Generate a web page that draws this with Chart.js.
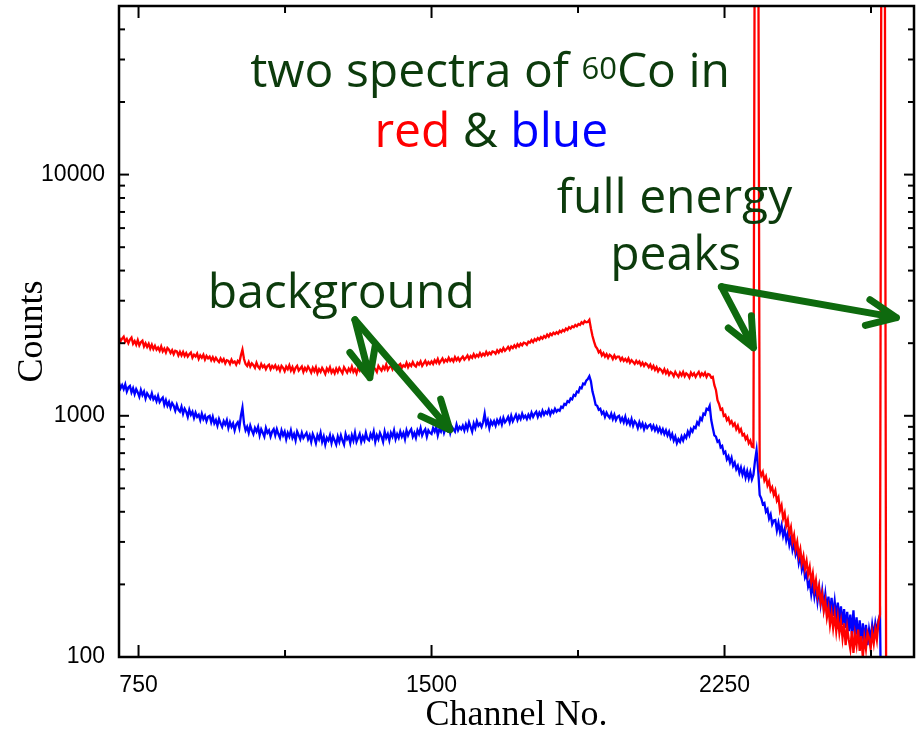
<!DOCTYPE html>
<html>
<head>
<meta charset="utf-8">
<title>Two spectra of 60Co</title>
<script src="https://cdn.jsdelivr.net/npm/chart.js@4.4.1/dist/chart.umd.min.js"></script>
<style>
  html, body { margin: 0; padding: 0; background: #fff; }
</style>
</head>
<body>
<canvas id="spectrum" width="916" height="731"></canvas>
<script>
// spectra sampled every 4th channel, starting at channel 700
const firstChannel = 700;
const channelStep = 4;

// red spectrum (20 values = 80 channels per row)
const redCounts = [
  2120, 2040, 2090, 2130, 2030, 2080, 2000, 2070, 2110, 1990, 2040, 1970, 2060, 1960, 2020, 2050, 1940, 2000, 1930, 1990,
  1900, 1970, 1890, 1950, 1880, 1920, 1860, 1940, 1850, 1900, 1830, 1910, 1880, 1820, 1870, 1800, 1860, 1850, 1780, 1840,
  1780, 1840, 1770, 1820, 1760, 1800, 1830, 1740, 1790, 1760, 1810, 1720, 1780, 1740, 1790, 1710, 1770, 1730, 1760, 1700,
  1750, 1690, 1740, 1700, 1670, 1730, 1680, 1720, 1650, 1700, 1690, 1640, 1710, 1660, 1680, 1630, 1690, 1660, 1780, 1880,
  1720, 1640, 1610, 1670, 1600, 1650, 1620, 1580, 1660, 1600, 1570, 1640, 1590, 1620, 1560, 1610, 1630, 1560, 1610, 1580,
  1620, 1560, 1600, 1540, 1610, 1580, 1530, 1600, 1560, 1620, 1540, 1590, 1520, 1580, 1610, 1540, 1570, 1600, 1520, 1580,
  1540, 1600, 1560, 1510, 1580, 1530, 1590, 1500, 1560, 1520, 1580, 1540, 1490, 1570, 1530, 1590, 1510, 1550, 1500, 1570,
  1520, 1580, 1540, 1500, 1590, 1550, 1510, 1570, 1530, 1600, 1520, 1560, 1500, 1580, 1540, 1610, 1530, 1570, 1520, 1590,
  1550, 1600, 1530, 1590, 1560, 1520, 1610, 1570, 1540, 1600, 1560, 1630, 1550, 1590, 1610, 1560, 1630, 1580, 1560, 1620,
  1640, 1580, 1620, 1600, 1660, 1590, 1640, 1610, 1670, 1620, 1600, 1660, 1630, 1680, 1610, 1650, 1690, 1630, 1670, 1640,
  1680, 1640, 1700, 1660, 1720, 1650, 1690, 1730, 1670, 1710, 1680, 1740, 1690, 1720, 1680, 1750, 1700, 1740, 1690, 1730,
  1760, 1710, 1740, 1780, 1720, 1770, 1740, 1800, 1750, 1790, 1760, 1820, 1770, 1810, 1780, 1840, 1790, 1830, 1800, 1850,
  1840, 1810, 1870, 1830, 1880, 1850, 1910, 1860, 1890, 1930, 1880, 1940, 1910, 1960, 1920, 1980, 1940, 1990, 1960, 2010,
  2000, 1970, 2030, 2010, 2060, 2020, 2080, 2050, 2100, 2070, 2120, 2090, 2140, 2110, 2170, 2130, 2190, 2160, 2210, 2180,
  2220, 2190, 2250, 2220, 2270, 2240, 2300, 2270, 2330, 2300, 2350, 2330, 2380, 2350, 2400, 2380, 2440, 2410, 2470, 2440,
  2450, 2500, 2300, 2140, 2030, 1940, 1900, 1830, 1860, 1780, 1820, 1760, 1800, 1740, 1790, 1770, 1720, 1780, 1730, 1760,
  1760, 1700, 1740, 1690, 1720, 1680, 1730, 1660, 1700, 1670, 1640, 1690, 1650, 1680, 1620, 1660, 1610, 1650, 1630, 1590,
  1630, 1570, 1610, 1550, 1590, 1530, 1570, 1550, 1510, 1560, 1500, 1540, 1480, 1520, 1500, 1460, 1520, 1480, 1450, 1510,
  1470, 1520, 1460, 1500, 1480, 1440, 1510, 1470, 1500, 1450, 1490, 1520, 1460, 1500, 1470, 1510, 1450, 1490, 1480, 1440,
  1450, 1340, 1280, 1160, 1120, 1060, 1070, 1000, 1010, 960, 980, 930, 950, 910, 930, 880, 910, 860, 880, 830,
  840, 800, 820, 770, 790, 745, 740, 300000, 10000000, 200000, 600, 565, 585, 540, 560, 515, 535, 490, 505, 470,
  490, 445, 460, 405, 425, 375, 395, 350, 370, 325, 345, 300, 320, 280, 300, 262, 280, 245, 262, 232,
  250, 220, 236, 205, 222, 192, 208, 180, 196, 168, 182, 156, 170, 146, 160, 136, 152, 132, 150, 128,
  146, 126, 140, 120, 138, 112, 132, 118, 108, 128, 104, 124, 112, 130, 106, 122, 100, 120, 108, 126,
  120, 108, 126, 114, 130, 118, 140, 150, 300000, 10000000, 200000, 40, 40, 40, 40, 40, 40, 40, 40, 40,
  40, 40, 40, 40, 40, 40, 40, 40, 40
];

// blue spectrum
const blueCounts = [
  1370, 1300, 1340, 1290, 1350, 1260, 1310, 1330, 1250, 1300, 1230, 1290, 1250, 1200, 1280, 1220, 1260, 1180, 1240, 1210,
  1180, 1240, 1170, 1200, 1150, 1210, 1140, 1170, 1190, 1110, 1160, 1100, 1140, 1080, 1130, 1100, 1050, 1110, 1060, 1040,
  1090, 1020, 1070, 1040, 990, 1060, 1010, 1040, 980, 1030, 990, 1010, 960, 1020, 970, 1000, 950, 990, 1000, 940,
  990, 930, 960, 910, 970, 930, 900, 950, 920, 960, 890, 940, 900, 930, 870, 920, 940, 890, 1000, 1080,
  930, 870, 900, 850, 910, 870, 840, 890, 860, 900, 830, 880, 850, 820, 890, 850, 870, 820, 860, 880,
  830, 880, 840, 810, 870, 830, 860, 800, 850, 820, 870, 810, 840, 790, 860, 830, 800, 850, 810, 830,
  850, 800, 830, 780, 840, 810, 770, 830, 800, 850, 780, 820, 760, 810, 790, 830, 770, 820, 790, 760,
  820, 780, 830, 790, 760, 840, 800, 820, 770, 830, 790, 850, 780, 810, 840, 780, 820, 790, 850, 800,
  790, 840, 810, 860, 780, 830, 800, 850, 820, 780, 860, 810, 840, 790, 850, 820, 870, 800, 840, 810,
  860, 820, 850, 800, 870, 830, 860, 880, 820, 850, 810, 870, 840, 890, 830, 860, 880, 820, 870, 850,
  840, 890, 860, 900, 830, 880, 860, 910, 850, 890, 870, 920, 850, 900, 880, 860, 920, 870, 900, 880,
  910, 870, 920, 880, 940, 900, 860, 930, 890, 950, 910, 930, 900, 940, 1020, 920, 960, 890, 950, 920,
  950, 910, 960, 930, 970, 920, 980, 940, 960, 990, 940, 1000, 950, 980, 1010, 960, 1000, 970, 1020, 980,
  1000, 970, 1010, 980, 1030, 990, 1020, 1040, 990, 1030, 1000, 1050, 1010, 1040, 1020, 1060, 1010, 1050, 1030, 1070,
  1040, 1060, 1050, 1090, 1080, 1120, 1110, 1150, 1140, 1180, 1170, 1220, 1210, 1260, 1250, 1310, 1300, 1360, 1350, 1400,
  1420, 1460, 1390, 1260, 1190, 1110, 1100, 1060, 1070, 1020, 1040, 990, 1030, 1000, 980, 1020, 970, 1010, 960, 990,
  1000, 950, 980, 940, 990, 930, 960, 920, 970, 910, 950, 930, 890, 940, 900, 930, 880, 920, 890, 910,
  920, 880, 910, 870, 900, 860, 890, 850, 880, 840, 870, 830, 860, 810, 840, 790, 820, 770, 800, 780,
  820, 790, 830, 810, 860, 830, 880, 860, 900, 890, 940, 920, 980, 960, 1020, 1010, 1070, 1060, 1100, 960,
  890, 830, 820, 780, 790, 740, 750, 700, 710, 660, 680, 640, 670, 620, 640, 600, 620, 580, 610, 570,
  600, 555, 590, 550, 585, 545, 570, 650, 720, 600, 470, 455, 430, 435, 400, 410, 375, 390, 355, 368,
  370, 335, 360, 330, 352, 318, 338, 305, 325, 292, 312, 278, 296, 266, 280, 246, 265, 230, 244, 214,
  222, 196, 205, 182, 200, 178, 196, 170, 192, 166, 188, 160, 182, 156, 178, 150, 176, 148, 170, 146,
  168, 142, 162, 136, 158, 132, 154, 128, 150, 124, 156, 120, 146, 118, 142, 112, 138, 116, 136, 112,
  130, 118, 136, 122, 138, 126, 142, 150, 40, 40, 40, 40, 40, 40, 40, 40, 40, 40, 40, 40,
  40, 40, 40, 40, 40, 40, 40, 40, 40
];

const xTickLabels = [750, 1500, 2250];
const xMinorTicks = [1125, 1875, 2625];
const yTickLabels = [100, 1000, 10000];
const yMinorTicks = [200, 300, 400, 500, 600, 700, 800, 900,
  2000, 3000, 4000, 5000, 6000, 7000, 8000, 9000, 20000, 30000, 40000];

const channels = redCounts.map((_, i) => firstChannel + i * channelStep);

const textGreen = '#0c3b0c';
const arrowGreen = '#0e6a0e';
const noteFont = '48px "Comic Sans MS", "Open Sans", sans-serif';
const supFont = '31px "Comic Sans MS", "Open Sans", sans-serif';

// annotations, anchored in data coordinates (channel, counts)
const notes = [
  { ch: 1650, count: 23000, runs: [['two spectra of ', textGreen], ['60', textGreen, true], ['Co in', textGreen]] },
  { ch: 1653, count: 13000, runs: [['red', '#ff0000'], [' & ', textGreen], ['blue', '#0000ff']] },
  { ch: 2122, count: 6950, runs: [['full energy', textGreen]] },
  { ch: 2125, count: 4035, runs: [['peaks', textGreen]] },
  { ch: 1269, count: 2806, runs: [['background', textGreen]] }
];
const arrows = [
  { from: [1304, 2500], to: [1342, 1440] },
  { from: [1304, 2500], to: [1547, 875] },
  { from: [2242, 3428], to: [2324, 1915] },
  { from: [2242, 3428], to: [2690, 2553] }
];

const framePlugin = {
  id: 'frame',
  afterDraw(chart) {
    const { ctx, chartArea: a, scales: { x, y } } = chart;
    ctx.save();
    ctx.strokeStyle = '#000';
    ctx.lineWidth = 2;
    const seg = (x1, y1, x2, y2) => { ctx.beginPath(); ctx.moveTo(x1, y1); ctx.lineTo(x2, y2); ctx.stroke(); };
    const xTick = (v, len) => {
      const p = x.getPixelForValue(v);
      seg(p, a.bottom, p, a.bottom - len);
      seg(p, a.top, p, a.top + len);
    };
    const yTick = (v, len) => {
      const p = y.getPixelForValue(v);
      seg(a.left, p, a.left + len, p);
      seg(a.right, p, a.right - len, p);
    };
    xTickLabels.forEach(v => xTick(v, 12));
    xMinorTicks.forEach(v => xTick(v, 7));
    yTickLabels.forEach(v => yTick(v, 10));
    yMinorTicks.forEach(v => yTick(v, 6));
    ctx.lineWidth = 2.5;
    ctx.strokeRect(a.left, a.top, a.right - a.left, a.bottom - a.top);
    ctx.restore();
  }
};

const notesPlugin = {
  id: 'notes',
  afterDraw(chart) {
    const { ctx, scales: { x, y } } = chart;
    ctx.save();
    // arrows
    ctx.strokeStyle = arrowGreen;
    ctx.lineWidth = 7;
    ctx.lineCap = 'round';
    ctx.lineJoin = 'round';
    arrows.forEach(ar => {
      const x1 = x.getPixelForValue(ar.from[0]), y1 = y.getPixelForValue(ar.from[1]);
      const x2 = x.getPixelForValue(ar.to[0]), y2 = y.getPixelForValue(ar.to[1]);
      const ang = Math.atan2(y2 - y1, x2 - x1);
      ctx.beginPath();
      ctx.moveTo(x1, y1);
      ctx.lineTo(x2, y2);
      [-0.42, 0.42].forEach(d => {
        ctx.moveTo(x2 - 32 * Math.cos(ang + d), y2 - 32 * Math.sin(ang + d));
        ctx.lineTo(x2, y2);
      });
      ctx.stroke();
    });
    // text
    ctx.textBaseline = 'alphabetic';
    ctx.textAlign = 'left';
    notes.forEach(n => {
      const cx = x.getPixelForValue(n.ch), by = y.getPixelForValue(n.count);
      const widths = n.runs.map(([t, , sup]) => {
        ctx.font = sup ? supFont : noteFont;
        return ctx.measureText(t).width;
      });
      let px = cx - widths.reduce((s, w) => s + w, 0) / 2;
      n.runs.forEach(([t, col, sup], i) => {
        ctx.font = sup ? supFont : noteFont;
        ctx.fillStyle = col;
        ctx.fillText(t, px, sup ? by - 8 : by);
        px += widths[i];
      });
    });
    ctx.restore();
  }
};

const tickFont = { family: '"Liberation Sans", Arial, sans-serif', size: 23 };
const titleFont = { family: '"Liberation Serif", "Times New Roman", serif', size: 36, lineHeight: 1 };

new Chart(document.getElementById('spectrum'), {
  type: 'line',
  data: {
    datasets: [{
      label: 'red',
      data: channels.map((c, i) => ({ x: c, y: redCounts[i] })),
      borderColor: '#ff0000',
      borderWidth: 2.3,
      pointRadius: 0,
      tension: 0,
      order: 0
    }, {
      label: 'blue',
      data: channels.map((c, i) => ({ x: c, y: blueCounts[i] })),
      borderColor: '#0000ff',
      borderWidth: 2.3,
      pointRadius: 0,
      tension: 0,
      order: 1
    }]
  },
  options: {
    responsive: false,
    animation: false,
    layout: { padding: { top: 6, right: 2, left: 0, bottom: 0 } },
    plugins: {
      legend: { display: false },
      tooltip: { enabled: false }
    },
    scales: {
      x: {
        type: 'linear',
        min: 700,
        max: 2735,
        afterFit: s => { s.height = 74; s.paddingLeft = 0; s.paddingRight = 0; },
        afterBuildTicks: s => { s.ticks = xTickLabels.map(v => ({ value: v })); },
        grid: { display: false, drawTicks: false },
        border: { display: false },
        ticks: { padding: 15, font: tickFont, color: '#000', maxRotation: 0, autoSkip: false, callback: v => String(v) },
        title: { display: true, text: 'Channel No.', font: titleFont, color: '#000', padding: { top: 0, bottom: -3 } }
      },
      y: {
        type: 'logarithmic',
        min: 100,
        max: 50000,
        afterFit: s => { s.width = 119; s.paddingTop = 0; s.paddingBottom = 0; },
        afterBuildTicks: s => { s.ticks = yTickLabels.map(v => ({ value: v })); },
        grid: { display: false, drawTicks: false },
        border: { display: false },
        ticks: { padding: 14, font: tickFont, color: '#000', autoSkip: false, callback: v => String(v) },
        title: { display: true, text: 'Counts', font: titleFont, color: '#000', padding: { top: 15, bottom: 0 } }
      }
    }
  },
  plugins: [framePlugin, notesPlugin]
});
</script>
</body>
</html>
